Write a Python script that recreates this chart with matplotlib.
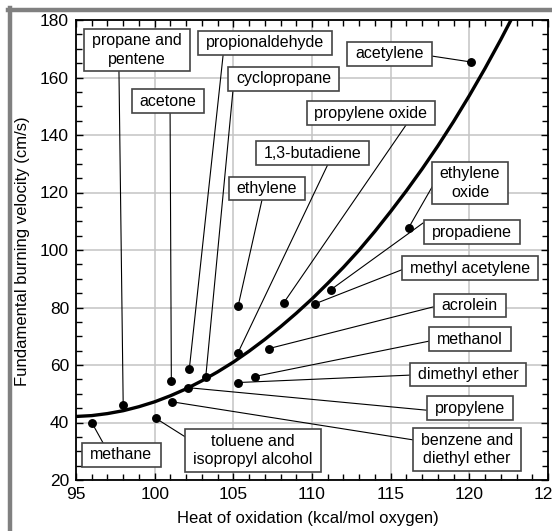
import matplotlib
matplotlib.use("Agg")
import matplotlib.pyplot as plt
from matplotlib.path import Path
from matplotlib.lines import Line2D
from matplotlib.ticker import MultipleLocator

plt.rcParams['font.family'] = ['Liberation Sans', 'DejaVu Sans']

# ---------------- data ----------------
names = ["methane", "propane and\npentene", "toluene and\nisopropyl alcohol", "acetone",
         "propionaldehyde", "benzene and\ndiethyl ether", "propylene", "cyclopropane",
         "ethylene", "1,3-butadiene", "dimethyl ether", "methanol", "acrolein",
         "propylene oxide", "methyl acetylene", "propadiene", "ethylene\noxide", "acetylene"]
heat = [96.0, 98.0, 100.06, 101.06, 102.2, 101.1, 102.15, 103.25,
        105.3, 105.3, 105.3, 106.35, 107.25, 108.2, 110.2, 111.2, 116.15, 120.1]
velocity = [40.0, 46.0, 41.5, 54.5, 58.5, 47.2, 52.1, 56.0,
            80.4, 64.3, 53.9, 56.0, 65.7, 81.6, 81.3, 86.2, 107.8, 165.4]

curve_x = [95, 96, 97, 98, 99, 100, 101, 102, 103, 104, 105, 106, 107, 108, 109,
           110, 111, 112, 113, 114, 115, 116, 117, 118, 119, 120, 121, 122, 123]
curve_y = [42.1, 42.4, 43.1, 44.1, 45.5, 47.2, 49.3, 51.7, 54.5, 57.6, 61.0, 64.8,
           68.9, 73.3, 78.0, 83.0, 88.4, 94.0, 100.0, 106.5, 113.4, 120.6, 128.2,
           136.2, 144.7, 153.7, 163.2, 173.2, 183.7]

x_ticks = [95, 100, 105, 110, 115, 120, 125]
y_ticks = [20, 40, 60, 80, 100, 120, 140, 160, 180]

# ---------------- layout (label box centres and leader-line anchors) ----------------
label_pos = {
    "methane": ((97.89, 28.7), (96.72, 32.9)),
    "propane and\npentene": ((98.88, 169.6), (97.73, 162.3)),
    "toluene and\nisopropyl alcohol": ((106.25, 30.3), (102.06, 34.6)),
    "acetone": ((100.85, 151.8), (100.98, 147.7)),
    "propionaldehyde": ((107.0, 172.0), (104.35, 167.8)),
    "benzene and\ndiethyl ether": ((119.83, 30.6), (116.49, 33.9)),
    "propylene": ((120.02, 44.9), (117.25, 44.3)),
    "cyclopropane": ((108.19, 159.5), (104.98, 155.7)),
    "ethylene": ((107.14, 121.4), (106.82, 117.4)),
    "1,3-butadiene": ((110.03, 133.7), (111.02, 129.9)),
    "dimethyl ether": ((119.92, 56.7), (116.3, 56.5)),
    "methanol": ((120.05, 68.9), (117.44, 68.3)),
    "acrolein": ((120.02, 80.7), (117.70, 80.2)),
    "propylene oxide": ((113.75, 147.5), (115.98, 143.5)),
    "methyl acetylene": ((120.05, 93.6), (115.98, 93.7)),
    "propadiene": ((120.14, 106.1), (117.06, 109.4)),
    "ethylene\noxide": ((120.05, 123.3), (117.63, 121.9)),
    "acetylene": ((114.93, 168.2), (117.57, 167.5)),
}


def padded_box(x0, y0, width, height, mutation_size):
    px = 0.5 * mutation_size
    py = 0.28 * mutation_size
    x0 -= px
    y0 -= py
    w = width + 2 * px
    h = height + 2 * py
    return Path([(x0, y0), (x0 + w, y0), (x0 + w, y0 + h), (x0, y0 + h), (x0, y0)],
                closed=True)


W, H = 552, 531
fig = plt.figure(figsize=(W / 100, H / 100), dpi=100)
fig.patch.set_facecolor('white')
ax = fig.add_axes([76 / W, 1 - 480 / H, (548 - 76) / W, (480 - 20) / H])

ax.set_xlim(95, 125)
ax.set_ylim(20, 180)
ax.set_xticks(x_ticks)
ax.set_yticks(y_ticks)
ax.xaxis.set_minor_locator(MultipleLocator(1))
ax.yaxis.set_minor_locator(MultipleLocator(5))
ax.tick_params(which='both', direction='in', top=True, right=True, labelsize=12.5,
               colors='black', width=1.0)
ax.tick_params(which='major', length=5, pad=5)
ax.tick_params(which='minor', length=4)
ax.grid(True, which='major', color='#c4c4c4', linewidth=1.1, zorder=0)
ax.set_axisbelow(True)
for s in ax.spines.values():
    s.set_linewidth(1.3)
    s.set_color('black')

# curve
ax.plot(curve_x, curve_y, color='black', linewidth=2.4, zorder=3, solid_capstyle='butt')

# leader lines, points and boxes
for n, x, y in zip(names, heat, velocity):
    (bx, by), (ax_, ay_) = label_pos[n]
    ax.plot([ax_, x], [ay_, y], color='black', linewidth=0.8, zorder=4)
    ax.text(bx, by, n, ha='center', va='center', fontsize=11.5, linespacing=1.3,
            zorder=6,
            bbox=dict(boxstyle=padded_box, facecolor='white', edgecolor='#444444',
                      linewidth=1.2))
ax.plot(heat, velocity, 'o', color='black', markersize=5.4, zorder=5)

fig.text(23 / W, 1 - 251 / H, "Fundamental burning velocity (cm/s)", rotation=90,
         ha='center', va='center', fontsize=12)
fig.text(308 / W, 1 - 519 / H, "Heat of oxidation (kcal/mol oxygen)",
         ha='center', va='center', fontsize=12)

# grey frame of the picture (top and left edges)
fig.add_artist(Line2D([8 / W, 1], [1 - 10 / H, 1 - 10 / H], color='#808080',
                      linewidth=3.2, transform=fig.transFigure))
fig.add_artist(Line2D([10 / W, 10 / W], [0, 1 - 8 / H], color='#808080',
                      linewidth=3.2, transform=fig.transFigure))

fig.savefig("out.png", dpi=100)
